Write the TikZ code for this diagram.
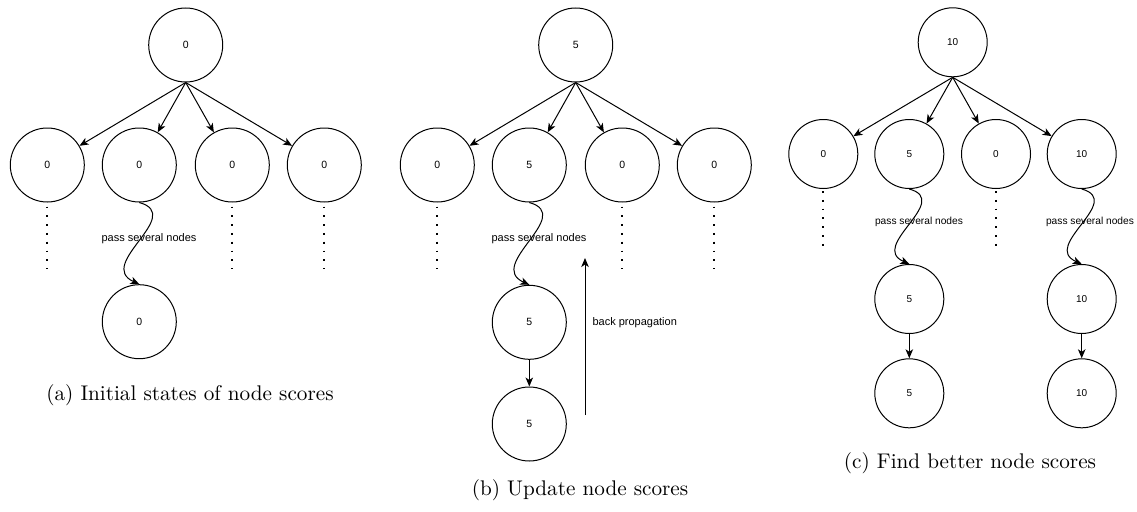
\documentclass[tikz,border=0pt]{standalone}
\usepackage{fontspec}
\newfontfamily\labelfont{Liberation Sans}
\usetikzlibrary{arrows.meta}
\tikzset{>={Stealth[length=9pt,width=7.5pt,inset=2.5pt]}}

\begin{document}
\begin{tikzpicture}[x=1pt,y=-1pt,
  score/.style={circle,draw,line width=1pt,minimum size=74pt,inner sep=0pt,
    font=\labelfont\fontsize{10.5}{12}\selectfont},
  smallscore/.style={score,minimum size=69pt,font=\labelfont\fontsize{10}{12}\selectfont},
  link/.style={->,line width=1pt},
  dots/.style={line width=1.8pt,dash pattern=on 1.8pt off 7pt},
  note/.style={font=\labelfont\fontsize{11}{13}\selectfont},
  smallnote/.style={font=\labelfont\fontsize{10.2}{12}\selectfont},
  caption/.style={scale=2.12,transform shape}]
\useasboundingbox (0,0) rectangle (1137,511);

% (a) initial states
\node[score] (ra) at (185.7,45) {0};
\node[score] (a1) at (47.3,165) {0};
\node[score] (a2) at (139.3,165) {0};
\node[score] (a3) at (232.3,165) {0};
\node[score] (a4) at (324.3,165) {0};
\node[score] (a5) at (139.3,321.7) {0};
\draw[link] (ra.south) -- (a1);
\draw[link] (ra.south) -- (a2);
\draw[link] (ra.south) -- (a3);
\draw[link] (ra.south) -- (a4);
\draw[dots] (a1.south) ++(0,4) -- ++(0,62);
\draw[dots] (a3.south) ++(0,4) -- ++(0,62);
\draw[dots] (a4.south) ++(0,4) -- ++(0,62);
\draw[link] (a2.south) .. controls +(46,13) and +(-44,-20) .. (a5.north);
\node[note] (pa) at (149,239) {pass several nodes};
\node[caption] (capa) at (190,395) {(a) Initial states of node scores};

% (b) update
\node[score] (rb) at (575.7,45) {5};
\node[score] (b1) at (437.3,165) {0};
\node[score] (b2) at (529.3,165) {5};
\node[score] (b3) at (622.3,165) {0};
\node[score] (b4) at (714.3,165) {0};
\node[score] (b5) at (529.3,322.3) {5};
\node[score] (b6) at (529.3,424) {5};
\draw[link] (rb.south) -- (b1);
\draw[link] (rb.south) -- (b2);
\draw[link] (rb.south) -- (b3);
\draw[link] (rb.south) -- (b4);
\draw[dots] (b1.south) ++(0,4) -- ++(0,62);
\draw[dots] (b3.south) ++(0,4) -- ++(0,62);
\draw[dots] (b4.south) ++(0,4) -- ++(0,62);
\draw[link] (b2.south) .. controls +(46,13) and +(-44,-20) .. (b5.north);
\draw[link] (b5) -- (b6);
\node[note] (pb) at (539,239) {pass several nodes};
\coordinate (bp0) at (585,415);
\coordinate (bp1) at (585,258);
\draw[link] (bp0) -- (bp1);
\node[note,anchor=west] (bpl) at (589,322.3) {back propagation};
\node[caption] (capb) at (580,490) {(b) Update node scores};

% (c) better scores
\node[smallscore] (rc) at (952.7,42.3) {10};
\node[smallscore] (c1) at (823.3,154) {0};
\node[smallscore] (c2) at (909.3,154) {5};
\node[smallscore] (c3) at (996,154) {0};
\node[smallscore] (c4) at (1081.7,154) {10};
\node[smallscore] (c5) at (909.3,299) {5};
\node[smallscore] (c6) at (909.3,393.3) {5};
\node[smallscore] (c7) at (1081.7,299) {10};
\node[smallscore] (c8) at (1081.7,393.3) {10};
\draw[link] (rc.south) -- (c1);
\draw[link] (rc.south) -- (c2);
\draw[link] (rc.south) -- (c3);
\draw[link] (rc.south) -- (c4);
\draw[dots] (c1.south) ++(0,2) -- ++(0,57);
\draw[dots] (c3.south) ++(0,2) -- ++(0,57);
\draw[link] (c2.south) .. controls +(43,12) and +(-41,-18) .. (c5.north);
\draw[link] (c4.south) .. controls +(43,12) and +(-41,-18) .. (c7.north);
\draw[link] (c5) -- (c6);
\draw[link] (c7) -- (c8);
\node[smallnote] (pc1) at (919,221.7) {pass several nodes};
\node[smallnote] (pc2) at (1090,221.7) {pass several nodes};
\node[caption] (capc) at (970,463.3) {(c) Find better node scores};
\end{tikzpicture}
\end{document}
